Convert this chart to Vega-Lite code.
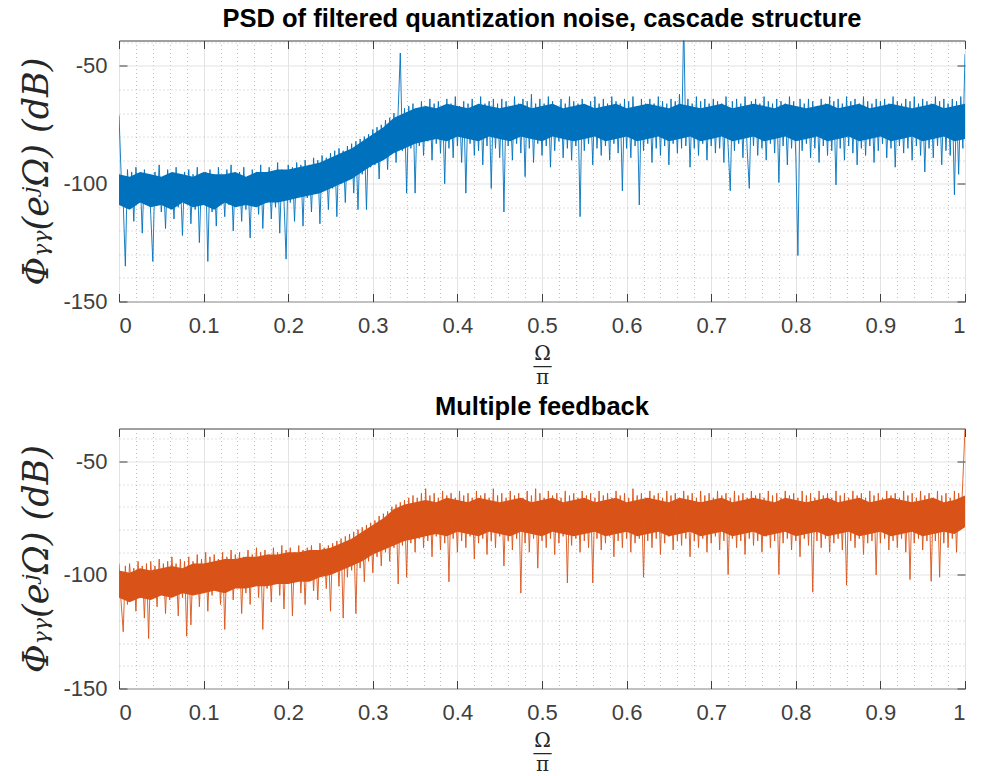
{
"$schema": "https://vega.github.io/schema/vega-lite/v6.json",
"padding": {"left": 19, "top": 6.5, "right": 5, "bottom": 0},
"background": "white",
"bounds": "flush",
"spacing": 127,
"config": {
  "view": {"stroke": "#404040", "strokeWidth": 1},
  "font": "Liberation Sans",
  "axis": {"labelFont": "Liberation Sans", "labelFontSize": 22, "labelColor": "#404040", "domain": false, "tickColor": "#404040", "gridWidth": 1},
  "title": {"font": "Liberation Sans", "fontSize": 25.5, "fontWeight": "bold", "color": "#000000", "offset": 7.5}
},
"datasets": {
"cascadeBand": [
{"f":0,"lo":-109,"hi":-96},{"f":0.0125,"lo":-111,"hi":-97},{"f":0.025,"lo":-108,"hi":-95},{"f":0.0375,"lo":-110,"hi":-96},{"f":0.05,"lo":-109,"hi":-97},
{"f":0.0625,"lo":-111,"hi":-95},{"f":0.075,"lo":-108,"hi":-96},{"f":0.0875,"lo":-110,"hi":-97},{"f":0.1,"lo":-109,"hi":-95},{"f":0.1125,"lo":-111,"hi":-96},
{"f":0.125,"lo":-108,"hi":-96},{"f":0.1375,"lo":-110,"hi":-95},{"f":0.15,"lo":-109,"hi":-97},{"f":0.1625,"lo":-110,"hi":-95},{"f":0.175,"lo":-108,"hi":-95},
{"f":0.1875,"lo":-108,"hi":-94},{"f":0.2,"lo":-107,"hi":-94},{"f":0.2125,"lo":-106,"hi":-93},{"f":0.225,"lo":-105,"hi":-92},{"f":0.2375,"lo":-104,"hi":-91},
{"f":0.25,"lo":-102,"hi":-89},{"f":0.2625,"lo":-100,"hi":-87},{"f":0.275,"lo":-98,"hi":-85},{"f":0.2875,"lo":-95,"hi":-82},{"f":0.3,"lo":-92,"hi":-79},
{"f":0.3125,"lo":-90,"hi":-76},{"f":0.325,"lo":-87,"hi":-72},{"f":0.3375,"lo":-85,"hi":-70},{"f":0.35,"lo":-83,"hi":-68},{"f":0.3625,"lo":-82,"hi":-67},
{"f":0.375,"lo":-81,"hi":-68},{"f":0.3875,"lo":-82,"hi":-66},{"f":0.4,"lo":-80,"hi":-67},{"f":0.4125,"lo":-81,"hi":-68},{"f":0.425,"lo":-82,"hi":-66},
{"f":0.4375,"lo":-80,"hi":-67},{"f":0.45,"lo":-81,"hi":-68},{"f":0.4625,"lo":-82,"hi":-67},{"f":0.475,"lo":-80,"hi":-66},{"f":0.4875,"lo":-81,"hi":-68},
{"f":0.5,"lo":-82,"hi":-67},{"f":0.5125,"lo":-80,"hi":-66},{"f":0.525,"lo":-81,"hi":-68},{"f":0.5375,"lo":-82,"hi":-67},{"f":0.55,"lo":-81,"hi":-66},
{"f":0.5625,"lo":-80,"hi":-68},{"f":0.575,"lo":-82,"hi":-67},{"f":0.5875,"lo":-81,"hi":-66},{"f":0.6,"lo":-80,"hi":-68},{"f":0.6125,"lo":-82,"hi":-67},
{"f":0.625,"lo":-81,"hi":-66},{"f":0.6375,"lo":-80,"hi":-67},{"f":0.65,"lo":-82,"hi":-68},{"f":0.6625,"lo":-81,"hi":-66},{"f":0.675,"lo":-80,"hi":-67},
{"f":0.6875,"lo":-82,"hi":-68},{"f":0.7,"lo":-81,"hi":-67},{"f":0.7125,"lo":-80,"hi":-66},{"f":0.725,"lo":-82,"hi":-68},{"f":0.7375,"lo":-81,"hi":-67},
{"f":0.75,"lo":-80,"hi":-66},{"f":0.7625,"lo":-82,"hi":-67},{"f":0.775,"lo":-81,"hi":-68},{"f":0.7875,"lo":-80,"hi":-66},{"f":0.8,"lo":-82,"hi":-67},
{"f":0.8125,"lo":-81,"hi":-68},{"f":0.825,"lo":-80,"hi":-67},{"f":0.8375,"lo":-82,"hi":-66},{"f":0.85,"lo":-81,"hi":-68},{"f":0.8625,"lo":-80,"hi":-67},
{"f":0.875,"lo":-82,"hi":-66},{"f":0.8875,"lo":-81,"hi":-68},{"f":0.9,"lo":-80,"hi":-67},{"f":0.9125,"lo":-82,"hi":-66},{"f":0.925,"lo":-81,"hi":-67},
{"f":0.9375,"lo":-80,"hi":-68},{"f":0.95,"lo":-82,"hi":-67},{"f":0.9625,"lo":-81,"hi":-66},{"f":0.975,"lo":-80,"hi":-68},{"f":0.9875,"lo":-82,"hi":-67},
{"f":1,"lo":-81,"hi":-66}
],
"feedbackBand": [
{"f":0,"lo":-110,"hi":-98},{"f":0.0125,"lo":-112,"hi":-99},{"f":0.025,"lo":-110,"hi":-97},{"f":0.0375,"lo":-111,"hi":-98},{"f":0.05,"lo":-109,"hi":-97},
{"f":0.0625,"lo":-110,"hi":-96},{"f":0.075,"lo":-108,"hi":-97},{"f":0.0875,"lo":-109,"hi":-95},{"f":0.1,"lo":-108,"hi":-95},{"f":0.1125,"lo":-107,"hi":-94},
{"f":0.125,"lo":-108,"hi":-93},{"f":0.1375,"lo":-106,"hi":-93},{"f":0.15,"lo":-106,"hi":-92},{"f":0.1625,"lo":-105,"hi":-92},{"f":0.175,"lo":-105,"hi":-91},
{"f":0.1875,"lo":-104,"hi":-91},{"f":0.2,"lo":-104,"hi":-90},{"f":0.2125,"lo":-103,"hi":-90},{"f":0.225,"lo":-103,"hi":-89},{"f":0.2375,"lo":-101,"hi":-89},
{"f":0.25,"lo":-100,"hi":-88},{"f":0.2625,"lo":-98,"hi":-86},{"f":0.275,"lo":-96,"hi":-84},{"f":0.2875,"lo":-94,"hi":-81},{"f":0.3,"lo":-91,"hi":-78},
{"f":0.3125,"lo":-89,"hi":-75},{"f":0.325,"lo":-87,"hi":-71},{"f":0.3375,"lo":-85,"hi":-69},{"f":0.35,"lo":-84,"hi":-68},{"f":0.3625,"lo":-83,"hi":-67},
{"f":0.375,"lo":-82,"hi":-68},{"f":0.3875,"lo":-83,"hi":-66},{"f":0.4,"lo":-81,"hi":-67},{"f":0.4125,"lo":-82,"hi":-68},{"f":0.425,"lo":-83,"hi":-66},
{"f":0.4375,"lo":-81,"hi":-67},{"f":0.45,"lo":-82,"hi":-68},{"f":0.4625,"lo":-83,"hi":-67},{"f":0.475,"lo":-81,"hi":-66},{"f":0.4875,"lo":-82,"hi":-68},
{"f":0.5,"lo":-83,"hi":-67},{"f":0.5125,"lo":-81,"hi":-66},{"f":0.525,"lo":-82,"hi":-68},{"f":0.5375,"lo":-83,"hi":-67},{"f":0.55,"lo":-82,"hi":-66},
{"f":0.5625,"lo":-81,"hi":-68},{"f":0.575,"lo":-83,"hi":-67},{"f":0.5875,"lo":-82,"hi":-66},{"f":0.6,"lo":-81,"hi":-68},{"f":0.6125,"lo":-83,"hi":-67},
{"f":0.625,"lo":-82,"hi":-66},{"f":0.6375,"lo":-81,"hi":-67},{"f":0.65,"lo":-83,"hi":-68},{"f":0.6625,"lo":-82,"hi":-66},{"f":0.675,"lo":-81,"hi":-67},
{"f":0.6875,"lo":-83,"hi":-68},{"f":0.7,"lo":-82,"hi":-67},{"f":0.7125,"lo":-81,"hi":-66},{"f":0.725,"lo":-83,"hi":-68},{"f":0.7375,"lo":-82,"hi":-67},
{"f":0.75,"lo":-81,"hi":-66},{"f":0.7625,"lo":-83,"hi":-67},{"f":0.775,"lo":-82,"hi":-68},{"f":0.7875,"lo":-81,"hi":-66},{"f":0.8,"lo":-83,"hi":-67},
{"f":0.8125,"lo":-82,"hi":-68},{"f":0.825,"lo":-81,"hi":-67},{"f":0.8375,"lo":-83,"hi":-66},{"f":0.85,"lo":-82,"hi":-68},{"f":0.8625,"lo":-81,"hi":-67},
{"f":0.875,"lo":-83,"hi":-66},{"f":0.8875,"lo":-82,"hi":-68},{"f":0.9,"lo":-81,"hi":-67},{"f":0.9125,"lo":-83,"hi":-66},{"f":0.925,"lo":-82,"hi":-67},
{"f":0.9375,"lo":-81,"hi":-68},{"f":0.95,"lo":-83,"hi":-67},{"f":0.9625,"lo":-82,"hi":-66},{"f":0.975,"lo":-81,"hi":-68},{"f":0.9875,"lo":-82,"hi":-67},
{"f":1,"lo":-79,"hi":-65}
],
"cascade": [
{"f":0,"p":-71},{"f":0.0025,"p":-96},{"f":0.005,"p":-108},{"f":0.0075,"p":-135},{"f":0.01,"p":-94},{"f":0.0125,"p":-110},{"f":0.015,"p":-95},{"f":0.0175,"p":-116},{"f":0.02,"p":-93},{"f":0.0225,"p":-106},
{"f":0.025,"p":-97},{"f":0.0275,"p":-121},{"f":0.03,"p":-94},{"f":0.0325,"p":-108},{"f":0.035,"p":-96},{"f":0.0375,"p":-113},{"f":0.04,"p":-133},{"f":0.0425,"p":-95},{"f":0.045,"p":-109},{"f":0.0475,"p":-92},
{"f":0.05,"p":-112},{"f":0.0525,"p":-97},{"f":0.055,"p":-119},{"f":0.0575,"p":-94},{"f":0.06,"p":-107},{"f":0.0625,"p":-96},{"f":0.065,"p":-115},{"f":0.0675,"p":-93},{"f":0.07,"p":-110},{"f":0.0725,"p":-98},
{"f":0.075,"p":-122},{"f":0.0775,"p":-95},{"f":0.08,"p":-105},{"f":0.0825,"p":-94},{"f":0.085,"p":-117},{"f":0.0875,"p":-96},{"f":0.09,"p":-111},{"f":0.0925,"p":-93},{"f":0.095,"p":-125},{"f":0.0975,"p":-97},
{"f":0.1,"p":-108},{"f":0.1025,"p":-95},{"f":0.105,"p":-133},{"f":0.1075,"p":-94},{"f":0.11,"p":-112},{"f":0.1125,"p":-96},{"f":0.115,"p":-118},{"f":0.1175,"p":-93},{"f":0.12,"p":-106},{"f":0.1225,"p":-97},
{"f":0.125,"p":-114},{"f":0.1275,"p":-94},{"f":0.13,"p":-109},{"f":0.1325,"p":-92},{"f":0.135,"p":-120},{"f":0.1375,"p":-96},{"f":0.14,"p":-107},{"f":0.1425,"p":-95},{"f":0.145,"p":-116},{"f":0.1475,"p":-93},
{"f":0.15,"p":-111},{"f":0.1525,"p":-97},{"f":0.155,"p":-123},{"f":0.1575,"p":-94},{"f":0.16,"p":-106},{"f":0.1625,"p":-95},{"f":0.165,"p":-113},{"f":0.1675,"p":-92},{"f":0.17,"p":-119},{"f":0.1725,"p":-96},
{"f":0.175,"p":-108},{"f":0.1775,"p":-93},{"f":0.18,"p":-115},{"f":0.1825,"p":-95},{"f":0.185,"p":-110},{"f":0.1875,"p":-91},{"f":0.19,"p":-121},{"f":0.1925,"p":-94},{"f":0.195,"p":-107},{"f":0.1975,"p":-132},
{"f":0.2,"p":-92},{"f":0.2025,"p":-108},{"f":0.205,"p":-93},{"f":0.2075,"p":-116},{"f":0.21,"p":-91},{"f":0.2125,"p":-105},{"f":0.215,"p":-92},{"f":0.2175,"p":-118},{"f":0.22,"p":-90},{"f":0.2225,"p":-106},
{"f":0.225,"p":-92},{"f":0.2275,"p":-112},{"f":0.23,"p":-89},{"f":0.2325,"p":-104},{"f":0.235,"p":-90},{"f":0.2375,"p":-117},{"f":0.24,"p":-88},{"f":0.2425,"p":-103},{"f":0.245,"p":-89},{"f":0.2475,"p":-111},
{"f":0.25,"p":-87},{"f":0.2525,"p":-102},{"f":0.255,"p":-86},{"f":0.2575,"p":-114},{"f":0.26,"p":-85},{"f":0.2625,"p":-100},{"f":0.265,"p":-86},{"f":0.2675,"p":-108},{"f":0.27,"p":-84},{"f":0.2725,"p":-98},
{"f":0.275,"p":-83},{"f":0.2775,"p":-104},{"f":0.28,"p":-82},{"f":0.2825,"p":-111},{"f":0.285,"p":-81},{"f":0.2875,"p":-96},{"f":0.29,"p":-80},{"f":0.2925,"p":-111},{"f":0.295,"p":-79},{"f":0.2975,"p":-93},
{"f":0.3,"p":-77},{"f":0.3025,"p":-92},{"f":0.305,"p":-76},{"f":0.3075,"p":-98},{"f":0.31,"p":-75},{"f":0.3125,"p":-89},{"f":0.315,"p":-73},{"f":0.3175,"p":-94},{"f":0.32,"p":-72},{"f":0.3225,"p":-87},
{"f":0.325,"p":-70},{"f":0.3275,"p":-91},{"f":0.33,"p":-69},{"f":0.3325,"p":-44.5},{"f":0.335,"p":-86},{"f":0.3375,"p":-68},{"f":0.34,"p":-104},{"f":0.3425,"p":-67},{"f":0.345,"p":-85},{"f":0.3475,"p":-66},
{"f":0.35,"p":-104},{"f":0.3525,"p":-68},{"f":0.355,"p":-84},{"f":0.3575,"p":-65},{"f":0.36,"p":-88},{"f":0.3625,"p":-67},{"f":0.365,"p":-82},{"f":0.3675,"p":-64},{"f":0.37,"p":-90},{"f":0.3725,"p":-66},
{"f":0.375,"p":-83},{"f":0.3775,"p":-65},{"f":0.38,"p":-87},{"f":0.3825,"p":-67},{"f":0.385,"p":-100},{"f":0.3875,"p":-64},{"f":0.39,"p":-85},{"f":0.3925,"p":-66},{"f":0.395,"p":-89},{"f":0.3975,"p":-63},
{"f":0.4,"p":-84},{"f":0.4025,"p":-67},{"f":0.405,"p":-91},{"f":0.4075,"p":-65},{"f":0.41,"p":-104},{"f":0.4125,"p":-66},{"f":0.415,"p":-83},{"f":0.4175,"p":-64},{"f":0.42,"p":-88},{"f":0.4225,"p":-67},
{"f":0.425,"p":-86},{"f":0.4275,"p":-63},{"f":0.43,"p":-92},{"f":0.4325,"p":-66},{"f":0.435,"p":-84},{"f":0.4375,"p":-65},{"f":0.44,"p":-102},{"f":0.4425,"p":-64},{"f":0.445,"p":-85},{"f":0.4475,"p":-66},
{"f":0.45,"p":-89},{"f":0.4525,"p":-64},{"f":0.455,"p":-112},{"f":0.4575,"p":-65},{"f":0.46,"p":-84},{"f":0.4625,"p":-67},{"f":0.465,"p":-90},{"f":0.4675,"p":-63},{"f":0.47,"p":-83},{"f":0.4725,"p":-66},
{"f":0.475,"p":-87},{"f":0.4775,"p":-64},{"f":0.48,"p":-97},{"f":0.4825,"p":-65},{"f":0.485,"p":-85},{"f":0.4875,"p":-62},{"f":0.49,"p":-91},{"f":0.4925,"p":-66},{"f":0.495,"p":-83},{"f":0.4975,"p":-64},
{"f":0.5,"p":-88},{"f":0.5025,"p":-66},{"f":0.505,"p":-84},{"f":0.5075,"p":-63},{"f":0.51,"p":-93},{"f":0.5125,"p":-65},{"f":0.515,"p":-86},{"f":0.5175,"p":-67},{"f":0.52,"p":-82},{"f":0.5225,"p":-64},
{"f":0.525,"p":-89},{"f":0.5275,"p":-66},{"f":0.53,"p":-85},{"f":0.5325,"p":-63},{"f":0.535,"p":-90},{"f":0.5375,"p":-65},{"f":0.54,"p":-84},{"f":0.5425,"p":-66},{"f":0.545,"p":-114},{"f":0.5475,"p":-64},
{"f":0.55,"p":-86},{"f":0.5525,"p":-67},{"f":0.555,"p":-83},{"f":0.5575,"p":-65},{"f":0.56,"p":-92},{"f":0.5625,"p":-63},{"f":0.565,"p":-85},{"f":0.5675,"p":-66},{"f":0.57,"p":-88},{"f":0.5725,"p":-64},
{"f":0.575,"p":-84},{"f":0.5775,"p":-66},{"f":0.58,"p":-90},{"f":0.5825,"p":-63},{"f":0.585,"p":-83},{"f":0.5875,"p":-65},{"f":0.59,"p":-87},{"f":0.5925,"p":-66},{"f":0.595,"p":-103},{"f":0.5975,"p":-64},
{"f":0.6,"p":-85},{"f":0.6025,"p":-65},{"f":0.605,"p":-89},{"f":0.6075,"p":-63},{"f":0.61,"p":-84},{"f":0.6125,"p":-67},{"f":0.615,"p":-109},{"f":0.6175,"p":-64},{"f":0.62,"p":-86},{"f":0.6225,"p":-66},
{"f":0.625,"p":-83},{"f":0.6275,"p":-64},{"f":0.63,"p":-91},{"f":0.6325,"p":-66},{"f":0.635,"p":-85},{"f":0.6375,"p":-63},{"f":0.64,"p":-88},{"f":0.6425,"p":-65},{"f":0.645,"p":-84},{"f":0.6475,"p":-66},
{"f":0.65,"p":-92},{"f":0.6525,"p":-64},{"f":0.655,"p":-83},{"f":0.6575,"p":-65},{"f":0.66,"p":-87},{"f":0.6625,"p":-62},{"f":0.665,"p":-85},{"f":0.6675,"p":-30},{"f":0.67,"p":-84},{"f":0.6725,"p":-64},
{"f":0.675,"p":-93},{"f":0.6775,"p":-66},{"f":0.68,"p":-85},{"f":0.6825,"p":-63},{"f":0.685,"p":-88},{"f":0.6875,"p":-65},{"f":0.69,"p":-83},{"f":0.6925,"p":-64},{"f":0.695,"p":-90},{"f":0.6975,"p":-66},
{"f":0.7,"p":-84},{"f":0.7025,"p":-64},{"f":0.705,"p":-87},{"f":0.7075,"p":-65},{"f":0.71,"p":-85},{"f":0.7125,"p":-66},{"f":0.715,"p":-91},{"f":0.7175,"p":-63},{"f":0.72,"p":-84},{"f":0.7225,"p":-103},
{"f":0.725,"p":-65},{"f":0.7275,"p":-86},{"f":0.73,"p":-64},{"f":0.7325,"p":-83},{"f":0.735,"p":-66},{"f":0.7375,"p":-89},{"f":0.74,"p":-63},{"f":0.7425,"p":-85},{"f":0.745,"p":-102},{"f":0.7475,"p":-65},
{"f":0.75,"p":-84},{"f":0.7525,"p":-64},{"f":0.755,"p":-88},{"f":0.7575,"p":-66},{"f":0.76,"p":-85},{"f":0.7625,"p":-63},{"f":0.765,"p":-90},{"f":0.7675,"p":-65},{"f":0.77,"p":-83},{"f":0.7725,"p":-66},
{"f":0.775,"p":-87},{"f":0.7775,"p":-64},{"f":0.78,"p":-99.5},{"f":0.7825,"p":-65},{"f":0.785,"p":-84},{"f":0.7875,"p":-66},{"f":0.79,"p":-92},{"f":0.7925,"p":-63},{"f":0.795,"p":-85},{"f":0.7975,"p":-65},
{"f":0.8,"p":-88},{"f":0.8025,"p":-130.5},{"f":0.805,"p":-64},{"f":0.8075,"p":-86},{"f":0.81,"p":-66},{"f":0.8125,"p":-83},{"f":0.815,"p":-64},{"f":0.8175,"p":-89},{"f":0.82,"p":-65},{"f":0.8225,"p":-85},
{"f":0.825,"p":-67},{"f":0.8275,"p":-91},{"f":0.83,"p":-64},{"f":0.8325,"p":-84},{"f":0.835,"p":-66},{"f":0.8375,"p":-88},{"f":0.84,"p":-63},{"f":0.8425,"p":-86},{"f":0.845,"p":-65},{"f":0.8475,"p":-100.5},
{"f":0.85,"p":-64},{"f":0.8525,"p":-85},{"f":0.855,"p":-66},{"f":0.8575,"p":-90},{"f":0.86,"p":-63},{"f":0.8625,"p":-84},{"f":0.865,"p":-65},{"f":0.8675,"p":-87},{"f":0.87,"p":-64},{"f":0.8725,"p":-92},
{"f":0.875,"p":-66},{"f":0.8775,"p":-85},{"f":0.88,"p":-63},{"f":0.8825,"p":-88},{"f":0.885,"p":-65},{"f":0.8875,"p":-84},{"f":0.89,"p":-66},{"f":0.8925,"p":-91},{"f":0.895,"p":-64},{"f":0.8975,"p":-86},
{"f":0.9,"p":-65},{"f":0.9025,"p":-83},{"f":0.905,"p":-64},{"f":0.9075,"p":-89},{"f":0.91,"p":-66},{"f":0.9125,"p":-85},{"f":0.915,"p":-63},{"f":0.9175,"p":-93},{"f":0.92,"p":-65},{"f":0.9225,"p":-84},
{"f":0.925,"p":-66},{"f":0.9275,"p":-87},{"f":0.93,"p":-64},{"f":0.9325,"p":-85},{"f":0.935,"p":-65},{"f":0.9375,"p":-90},{"f":0.94,"p":-63},{"f":0.9425,"p":-84},{"f":0.945,"p":-66},{"f":0.9475,"p":-88},
{"f":0.95,"p":-64},{"f":0.9525,"p":-95},{"f":0.955,"p":-65},{"f":0.9575,"p":-85},{"f":0.96,"p":-66},{"f":0.9625,"p":-89},{"f":0.965,"p":-63},{"f":0.9675,"p":-84},{"f":0.97,"p":-65},{"f":0.9725,"p":-92},
{"f":0.975,"p":-64},{"f":0.9775,"p":-86},{"f":0.98,"p":-66},{"f":0.9825,"p":-88},{"f":0.985,"p":-64},{"f":0.9875,"p":-104.7},{"f":0.99,"p":-65},{"f":0.9925,"p":-96},{"f":0.995,"p":-63},{"f":0.9975,"p":-85},
{"f":1,"p":-45}
],
"feedback": [
{"f":0,"p":-95},{"f":0.0025,"p":-112},{"f":0.005,"p":-125},{"f":0.0075,"p":-96},{"f":0.01,"p":-113},{"f":0.0125,"p":-95},{"f":0.015,"p":-108},{"f":0.0175,"p":-97},{"f":0.02,"p":-116},{"f":0.0225,"p":-94},
{"f":0.025,"p":-110},{"f":0.0275,"p":-96},{"f":0.03,"p":-119},{"f":0.0325,"p":-95},{"f":0.035,"p":-128},{"f":0.0375,"p":-94},{"f":0.04,"p":-109},{"f":0.0425,"p":-96},{"f":0.045,"p":-114},{"f":0.0475,"p":-93},
{"f":0.05,"p":-107},{"f":0.0525,"p":-95},{"f":0.055,"p":-117},{"f":0.0575,"p":-94},{"f":0.06,"p":-111},{"f":0.0625,"p":-92},{"f":0.065,"p":-106},{"f":0.0675,"p":-95},{"f":0.07,"p":-118},{"f":0.0725,"p":-93},
{"f":0.075,"p":-110},{"f":0.0775,"p":-94},{"f":0.08,"p":-127},{"f":0.0825,"p":-92},{"f":0.085,"p":-122},{"f":0.0875,"p":-94},{"f":0.09,"p":-108},{"f":0.0925,"p":-91},{"f":0.095,"p":-114},{"f":0.0975,"p":-93},
{"f":0.1,"p":-106},{"f":0.1025,"p":-90},{"f":0.105,"p":-116},{"f":0.1075,"p":-92},{"f":0.11,"p":-109},{"f":0.1125,"p":-91},{"f":0.115,"p":-104},{"f":0.1175,"p":-93},{"f":0.12,"p":-113},{"f":0.1225,"p":-90},
{"f":0.125,"p":-124},{"f":0.1275,"p":-92},{"f":0.13,"p":-107},{"f":0.1325,"p":-89},{"f":0.135,"p":-111},{"f":0.1375,"p":-91},{"f":0.14,"p":-105},{"f":0.1425,"p":-90},{"f":0.145,"p":-117},{"f":0.1475,"p":-92},
{"f":0.15,"p":-108},{"f":0.1525,"p":-89},{"f":0.155,"p":-113},{"f":0.1575,"p":-91},{"f":0.16,"p":-104},{"f":0.1625,"p":-88},{"f":0.165,"p":-110},{"f":0.1675,"p":-90},{"f":0.17,"p":-124},{"f":0.1725,"p":-89},
{"f":0.175,"p":-106},{"f":0.1775,"p":-91},{"f":0.18,"p":-112},{"f":0.1825,"p":-88},{"f":0.185,"p":-103},{"f":0.1875,"p":-90},{"f":0.19,"p":-109},{"f":0.1925,"p":-87},{"f":0.195,"p":-115},{"f":0.1975,"p":-89},
{"f":0.2,"p":-104},{"f":0.2025,"p":-88},{"f":0.205,"p":-118},{"f":0.2075,"p":-90},{"f":0.21,"p":-102},{"f":0.2125,"p":-87},{"f":0.215,"p":-108},{"f":0.2175,"p":-89},{"f":0.22,"p":-113},{"f":0.2225,"p":-88},
{"f":0.225,"p":-101},{"f":0.2275,"p":-87},{"f":0.23,"p":-107},{"f":0.2325,"p":-89},{"f":0.235,"p":-111},{"f":0.2375,"p":-86},{"f":0.24,"p":-100},{"f":0.2425,"p":-88},{"f":0.245,"p":-106},{"f":0.2475,"p":-87},
{"f":0.25,"p":-116},{"f":0.2525,"p":-86},{"f":0.255,"p":-99},{"f":0.2575,"p":-85},{"f":0.26,"p":-105},{"f":0.2625,"p":-84},{"f":0.265,"p":-119},{"f":0.2675,"p":-83},{"f":0.27,"p":-101},{"f":0.2725,"p":-82},
{"f":0.275,"p":-98},{"f":0.2775,"p":-81},{"f":0.28,"p":-117},{"f":0.2825,"p":-80},{"f":0.285,"p":-97},{"f":0.2875,"p":-79},{"f":0.29,"p":-103},{"f":0.2925,"p":-78},{"f":0.295,"p":-94},{"f":0.2975,"p":-77},
{"f":0.3,"p":-99},{"f":0.3025,"p":-76},{"f":0.305,"p":-92},{"f":0.3075,"p":-74},{"f":0.31,"p":-96},{"f":0.3125,"p":-73},{"f":0.315,"p":-90},{"f":0.3175,"p":-72},{"f":0.32,"p":-94},{"f":0.3225,"p":-70},
{"f":0.325,"p":-88},{"f":0.3275,"p":-69},{"f":0.33,"p":-104},{"f":0.3325,"p":-68},{"f":0.335,"p":-87},{"f":0.3375,"p":-67},{"f":0.34,"p":-101},{"f":0.3425,"p":-66},{"f":0.345,"p":-86},{"f":0.3475,"p":-65},
{"f":0.35,"p":-90},{"f":0.3525,"p":-66},{"f":0.355,"p":-84},{"f":0.3575,"p":-64},{"f":0.36,"p":-88},{"f":0.3625,"p":-62},{"f":0.365,"p":-85},{"f":0.3675,"p":-65},{"f":0.37,"p":-92},{"f":0.3725,"p":-64},
{"f":0.375,"p":-83},{"f":0.3775,"p":-66},{"f":0.38,"p":-89},{"f":0.3825,"p":-63},{"f":0.385,"p":-86},{"f":0.3875,"p":-65},{"f":0.39,"p":-103},{"f":0.3925,"p":-64},{"f":0.395,"p":-84},{"f":0.3975,"p":-66},
{"f":0.4,"p":-90},{"f":0.4025,"p":-63},{"f":0.405,"p":-85},{"f":0.4075,"p":-65},{"f":0.41,"p":-88},{"f":0.4125,"p":-64},{"f":0.415,"p":-83},{"f":0.4175,"p":-66},{"f":0.42,"p":-93},{"f":0.4225,"p":-63},
{"f":0.425,"p":-86},{"f":0.4275,"p":-65},{"f":0.43,"p":-84},{"f":0.4325,"p":-64},{"f":0.435,"p":-91},{"f":0.4375,"p":-66},{"f":0.44,"p":-85},{"f":0.4425,"p":-62},{"f":0.445,"p":-88},{"f":0.4475,"p":-65},
{"f":0.45,"p":-83},{"f":0.4525,"p":-64},{"f":0.455,"p":-96},{"f":0.4575,"p":-66},{"f":0.46,"p":-85},{"f":0.4625,"p":-63},{"f":0.465,"p":-89},{"f":0.4675,"p":-65},{"f":0.47,"p":-84},{"f":0.4725,"p":-64},
{"f":0.475,"p":-108},{"f":0.4775,"p":-66},{"f":0.48,"p":-86},{"f":0.4825,"p":-63},{"f":0.485,"p":-90},{"f":0.4875,"p":-65},{"f":0.49,"p":-84},{"f":0.4925,"p":-62},{"f":0.495,"p":-97},{"f":0.4975,"p":-64},
{"f":0.5,"p":-85},{"f":0.5025,"p":-66},{"f":0.505,"p":-88},{"f":0.5075,"p":-63},{"f":0.51,"p":-84},{"f":0.5125,"p":-65},{"f":0.515,"p":-91},{"f":0.5175,"p":-64},{"f":0.52,"p":-86},{"f":0.5225,"p":-66},
{"f":0.525,"p":-83},{"f":0.5275,"p":-63},{"f":0.53,"p":-103.5},{"f":0.5325,"p":-65},{"f":0.535,"p":-87},{"f":0.5375,"p":-64},{"f":0.54,"p":-84},{"f":0.5425,"p":-66},{"f":0.545,"p":-90},{"f":0.5475,"p":-63},
{"f":0.55,"p":-85},{"f":0.5525,"p":-65},{"f":0.555,"p":-88},{"f":0.5575,"p":-64},{"f":0.56,"p":-103.5},{"f":0.5625,"p":-66},{"f":0.565,"p":-84},{"f":0.5675,"p":-63},{"f":0.57,"p":-89},{"f":0.5725,"p":-65},
{"f":0.575,"p":-86},{"f":0.5775,"p":-64},{"f":0.58,"p":-83},{"f":0.5825,"p":-66},{"f":0.585,"p":-92},{"f":0.5875,"p":-63},{"f":0.59,"p":-85},{"f":0.5925,"p":-65},{"f":0.595,"p":-88},{"f":0.5975,"p":-64},
{"f":0.6,"p":-84},{"f":0.6025,"p":-66},{"f":0.605,"p":-90},{"f":0.6075,"p":-62},{"f":0.61,"p":-86},{"f":0.6125,"p":-65},{"f":0.615,"p":-84},{"f":0.6175,"p":-64},{"f":0.62,"p":-101},{"f":0.6225,"p":-66},
{"f":0.625,"p":-85},{"f":0.6275,"p":-63},{"f":0.63,"p":-88},{"f":0.6325,"p":-65},{"f":0.635,"p":-84},{"f":0.6375,"p":-64},{"f":0.64,"p":-91},{"f":0.6425,"p":-66},{"f":0.645,"p":-86},{"f":0.6475,"p":-63},
{"f":0.65,"p":-83},{"f":0.6525,"p":-65},{"f":0.655,"p":-89},{"f":0.6575,"p":-64},{"f":0.66,"p":-85},{"f":0.6625,"p":-66},{"f":0.665,"p":-87},{"f":0.6675,"p":-63},{"f":0.67,"p":-84},{"f":0.6725,"p":-65},
{"f":0.675,"p":-92},{"f":0.6775,"p":-64},{"f":0.68,"p":-85},{"f":0.6825,"p":-66},{"f":0.685,"p":-88},{"f":0.6875,"p":-63},{"f":0.69,"p":-84},{"f":0.6925,"p":-65},{"f":0.695,"p":-90},{"f":0.6975,"p":-64},
{"f":0.7,"p":-86},{"f":0.7025,"p":-66},{"f":0.705,"p":-83},{"f":0.7075,"p":-63},{"f":0.71,"p":-89},{"f":0.7125,"p":-65},{"f":0.715,"p":-85},{"f":0.7175,"p":-64},{"f":0.72,"p":-99.8},{"f":0.7225,"p":-66},
{"f":0.725,"p":-84},{"f":0.7275,"p":-63},{"f":0.73,"p":-88},{"f":0.7325,"p":-65},{"f":0.735,"p":-85},{"f":0.7375,"p":-64},{"f":0.74,"p":-91},{"f":0.7425,"p":-66},{"f":0.745,"p":-84},{"f":0.7475,"p":-63},
{"f":0.75,"p":-87},{"f":0.7525,"p":-65},{"f":0.755,"p":-85},{"f":0.7575,"p":-64},{"f":0.76,"p":-90},{"f":0.7625,"p":-66},{"f":0.765,"p":-83},{"f":0.7675,"p":-63},{"f":0.77,"p":-88},{"f":0.7725,"p":-65},
{"f":0.775,"p":-85},{"f":0.7775,"p":-64},{"f":0.78,"p":-99.8},{"f":0.7825,"p":-66},{"f":0.785,"p":-86},{"f":0.7875,"p":-63},{"f":0.79,"p":-84},{"f":0.7925,"p":-65},{"f":0.795,"p":-89},{"f":0.7975,"p":-64},
{"f":0.8,"p":-85},{"f":0.8025,"p":-66},{"f":0.805,"p":-92},{"f":0.8075,"p":-63},{"f":0.81,"p":-84},{"f":0.8125,"p":-65},{"f":0.815,"p":-87},{"f":0.8175,"p":-64},{"f":0.82,"p":-107.6},{"f":0.8225,"p":-66},
{"f":0.825,"p":-85},{"f":0.8275,"p":-63},{"f":0.83,"p":-88},{"f":0.8325,"p":-65},{"f":0.835,"p":-84},{"f":0.8375,"p":-64},{"f":0.84,"p":-90},{"f":0.8425,"p":-66},{"f":0.845,"p":-86},{"f":0.8475,"p":-63},
{"f":0.85,"p":-84},{"f":0.8525,"p":-65},{"f":0.855,"p":-89},{"f":0.8575,"p":-64},{"f":0.86,"p":-104.5},{"f":0.8625,"p":-66},{"f":0.865,"p":-85},{"f":0.8675,"p":-63},{"f":0.87,"p":-88},{"f":0.8725,"p":-65},
{"f":0.875,"p":-84},{"f":0.8775,"p":-64},{"f":0.88,"p":-91},{"f":0.8825,"p":-66},{"f":0.885,"p":-86},{"f":0.8875,"p":-63},{"f":0.89,"p":-85},{"f":0.8925,"p":-65},{"f":0.895,"p":-100},{"f":0.8975,"p":-64},
{"f":0.9,"p":-86},{"f":0.9025,"p":-66},{"f":0.905,"p":-84},{"f":0.9075,"p":-63},{"f":0.91,"p":-89},{"f":0.9125,"p":-65},{"f":0.915,"p":-85},{"f":0.9175,"p":-64},{"f":0.92,"p":-88},{"f":0.9225,"p":-66},
{"f":0.925,"p":-84},{"f":0.9275,"p":-63},{"f":0.93,"p":-90},{"f":0.9325,"p":-65},{"f":0.935,"p":-102},{"f":0.9375,"p":-64},{"f":0.94,"p":-86},{"f":0.9425,"p":-66},{"f":0.945,"p":-84},{"f":0.9475,"p":-63},
{"f":0.95,"p":-89},{"f":0.9525,"p":-65},{"f":0.955,"p":-85},{"f":0.9575,"p":-64},{"f":0.96,"p":-102.7},{"f":0.9625,"p":-66},{"f":0.965,"p":-85},{"f":0.9675,"p":-63},{"f":0.97,"p":-101},{"f":0.9725,"p":-65},
{"f":0.975,"p":-86},{"f":0.9775,"p":-64},{"f":0.98,"p":-88},{"f":0.9825,"p":-66},{"f":0.985,"p":-84},{"f":0.9875,"p":-63},{"f":0.99,"p":-90},{"f":0.9925,"p":-64},{"f":0.995,"p":-80},{"f":0.9975,"p":-58},
{"f":1,"p":-35.5}
]
},
"vconcat": [
{
  "title": {"text": "PSD of filtered quantization noise, cascade structure"},
  "width": 846, "height": 261,
  "data": {"name": "cascade"},
  "resolve": {"axis": {"x": "independent", "y": "independent"}},
  "layer": [
    {"mark": {"type": "line", "opacity": 0, "clip": true},
     "encoding": {
       "x": {"field": "f", "type": "quantitative", "scale": {"domain": [0, 1], "nice": false, "zero": false},
             "axis": {"orient": "bottom", "values": [0.02,0.04,0.06,0.08,0.12,0.14,0.16,0.18,0.22,0.24,0.26,0.28,0.32,0.34,0.36,0.38,0.42,0.44,0.46,0.48,0.52,0.54,0.56,0.58,0.62,0.64,0.66,0.68,0.72,0.74,0.76,0.78,0.82,0.84,0.86,0.88,0.92,0.94,0.96,0.98], "grid": true, "gridDash": [1, 3], "gridColor": "#9a9a9a", "gridOpacity": 0.6, "labels": false, "ticks": false, "domain": false, "title": null}},
       "y": {"field": "p", "type": "quantitative", "scale": {"domain": [-150, -39.2], "nice": false, "zero": false},
             "axis": {"orient": "left", "values": [-140,-130,-120,-110,-90,-80,-70,-60,-40], "grid": true, "gridDash": [1, 3], "gridColor": "#9a9a9a", "gridOpacity": 0.6, "labels": false, "ticks": false, "domain": false, "title": null}}
     }},
    {"mark": {"type": "line", "opacity": 0, "clip": true},
     "encoding": {
       "x": {"field": "f", "type": "quantitative",
             "axis": {"orient": "top", "values": [0,0.1,0.2,0.3,0.4,0.5,0.6,0.7,0.8,0.9,1], "grid": true, "gridColor": "#e3e3e3", "labels": false, "ticks": true, "tickSize": -8, "domain": false, "title": null}},
       "y": {"field": "p", "type": "quantitative",
             "axis": {"orient": "right", "values": [-150,-100,-50], "grid": true, "gridColor": "#e3e3e3", "labels": false, "ticks": true, "tickSize": -8, "domain": false, "title": null}}
     }},
    {"data": {"name": "cascadeBand"},
     "mark": {"type": "area", "color": "#0072BD", "opacity": 1, "clip": true},
     "encoding": {
       "x": {"field": "f", "type": "quantitative", "axis": null},
       "y": {"field": "lo", "type": "quantitative", "axis": null},
       "y2": {"field": "hi"}
     }},
    {"mark": {"type": "line", "color": "#0072BD", "strokeWidth": 0.9, "clip": true},
     "encoding": {
       "x": {"field": "f", "type": "quantitative",
             "axis": {"orient": "bottom", "values": [0,0.1,0.2,0.3,0.4,0.5,0.6,0.7,0.8,0.9,1], "labelExpr": "datum.value + ''", "grid": false, "ticks": true, "tickSize": -8, "labelPadding": 22, "domain": false,
                      "title": ["Ω", "—", "π"], "titleFont": "DejaVu Serif", "titleFontSize": 20, "titleFontWeight": "normal", "titleLineHeight": 12, "titleColor": "#262626", "titlePadding": 7}},
       "y": {"field": "p", "type": "quantitative",
             "axis": {"orient": "left", "values": [-150,-100,-50], "labelExpr": "datum.value + ''", "grid": false, "ticks": true, "tickSize": -8, "labelPadding": 20, "domain": false,
                      "title": "Φᵧᵧ(eʲΩ)   (dB)", "titleFont": "DejaVu Serif", "titleFontStyle": "italic", "titleFontSize": 35, "titleFontWeight": "normal", "titleColor": "#262626", "titlePadding": 8}}
     }}
  ]
},
{
  "title": {"text": "Multiple feedback"},
  "width": 846, "height": 260,
  "data": {"name": "feedback"},
  "resolve": {"axis": {"x": "independent", "y": "independent"}},
  "layer": [
    {"mark": {"type": "line", "opacity": 0, "clip": true},
     "encoding": {
       "x": {"field": "f", "type": "quantitative", "scale": {"domain": [0, 1], "nice": false, "zero": false},
             "axis": {"orient": "bottom", "values": [0.02,0.04,0.06,0.08,0.12,0.14,0.16,0.18,0.22,0.24,0.26,0.28,0.32,0.34,0.36,0.38,0.42,0.44,0.46,0.48,0.52,0.54,0.56,0.58,0.62,0.64,0.66,0.68,0.72,0.74,0.76,0.78,0.82,0.84,0.86,0.88,0.92,0.94,0.96,0.98], "grid": true, "gridDash": [1, 3], "gridColor": "#9a9a9a", "gridOpacity": 0.6, "labels": false, "ticks": false, "domain": false, "title": null}},
       "y": {"field": "p", "type": "quantitative", "scale": {"domain": [-150, -35.5], "nice": false, "zero": false},
             "axis": {"orient": "left", "values": [-140,-130,-120,-110,-90,-80,-70,-60,-40], "grid": true, "gridDash": [1, 3], "gridColor": "#9a9a9a", "gridOpacity": 0.6, "labels": false, "ticks": false, "domain": false, "title": null}}
     }},
    {"mark": {"type": "line", "opacity": 0, "clip": true},
     "encoding": {
       "x": {"field": "f", "type": "quantitative",
             "axis": {"orient": "top", "values": [0,0.1,0.2,0.3,0.4,0.5,0.6,0.7,0.8,0.9,1], "grid": true, "gridColor": "#e3e3e3", "labels": false, "ticks": true, "tickSize": -8, "domain": false, "title": null}},
       "y": {"field": "p", "type": "quantitative",
             "axis": {"orient": "right", "values": [-150,-100,-50], "grid": true, "gridColor": "#e3e3e3", "labels": false, "ticks": true, "tickSize": -8, "domain": false, "title": null}}
     }},
    {"data": {"name": "feedbackBand"},
     "mark": {"type": "area", "color": "#D95319", "opacity": 1, "clip": true},
     "encoding": {
       "x": {"field": "f", "type": "quantitative", "axis": null},
       "y": {"field": "lo", "type": "quantitative", "axis": null},
       "y2": {"field": "hi"}
     }},
    {"mark": {"type": "line", "color": "#D95319", "strokeWidth": 0.9, "clip": true},
     "encoding": {
       "x": {"field": "f", "type": "quantitative",
             "axis": {"orient": "bottom", "values": [0,0.1,0.2,0.3,0.4,0.5,0.6,0.7,0.8,0.9,1], "labelExpr": "datum.value + ''", "grid": false, "ticks": true, "tickSize": -8, "labelPadding": 22, "domain": false,
                      "title": ["Ω", "—", "π"], "titleFont": "DejaVu Serif", "titleFontSize": 20, "titleFontWeight": "normal", "titleLineHeight": 12, "titleColor": "#262626", "titlePadding": 7}},
       "y": {"field": "p", "type": "quantitative",
             "axis": {"orient": "left", "values": [-150,-100,-50], "labelExpr": "datum.value + ''", "grid": false, "ticks": true, "tickSize": -8, "labelPadding": 20, "domain": false,
                      "title": "Φᵧᵧ(eʲΩ)   (dB)", "titleFont": "DejaVu Serif", "titleFontStyle": "italic", "titleFontSize": 35, "titleFontWeight": "normal", "titleColor": "#262626", "titlePadding": 8}}
     }}
  ]
}
]
}
